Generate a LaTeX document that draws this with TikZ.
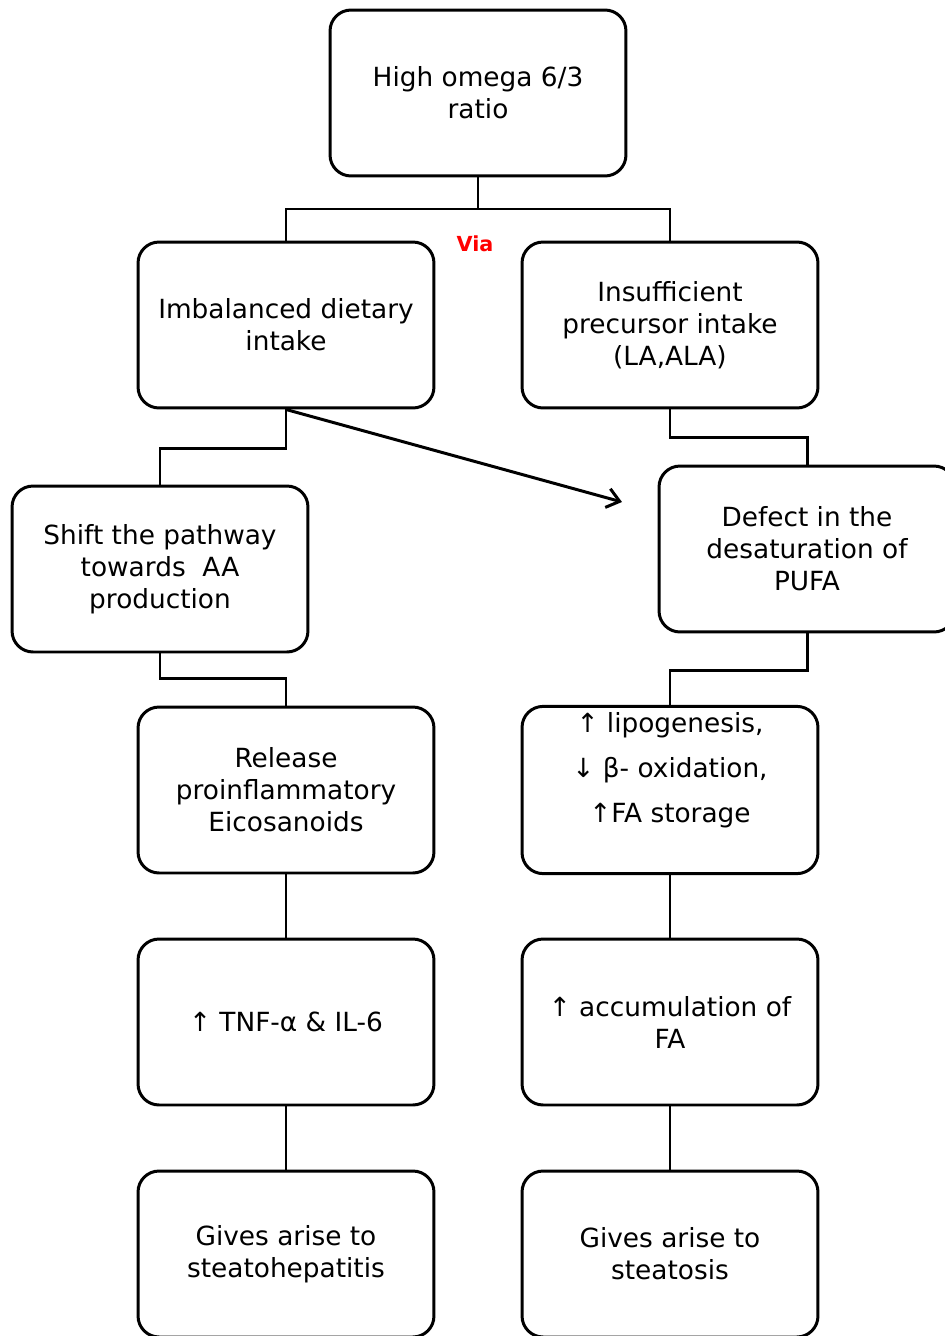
\documentclass[tikz,border=0pt]{standalone}
\usepackage{fontspec}
\setmainfont{DejaVu Sans}
\usetikzlibrary{arrows.meta}
\begin{document}
\begin{tikzpicture}[x=0.02cm,y=-0.02cm,
    link/.style={draw=black,line width=1.7pt}]
\useasboundingbox (0,0) rectangle (945,1336);
\begin{scope}[every node/.style={draw,line width=1.7pt,rounded corners=0.42cm,
              minimum width=5.92cm,minimum height=3.32cm,align=center,
              font=\fontsize{15}{18.2}\selectfont}]
    \node (ratio) at (478,93) {High omega 6/3\\ratio};
    \node (diet) at (286,325) {Imbalanced dietary\\intake};
    \node (prec) at (670,325) {Insufficient\\precursor intake\\(LA,ALA)};
    \node (shift) at (160,569) {Shift the pathway\\towards~ AA\\production};
    \node (desat) at (807,549) {Defect in the\\desaturation of\\PUFA};
    \node (eico) at (286,790) {Release\\proinflammatory\\Eicosanoids};
    \node (lipo) at (670,790) {↑ lipogenesis,\\[7.5pt]↓ β- oxidation,\\[7.5pt]↑FA storage\\[7.5pt]\mbox{}};
    \node (tnf) at (286,1022) {↑ TNF-α \& IL-6};
    \node (accu) at (670,1022) {↑ accumulation of\\FA};
    \node (nash) at (286,1254) {Gives arise to\\steatohepatitis};
    \node (nafl) at (670,1254) {Gives arise to\\steatosis};
\end{scope}

\node[text=red,font=\bfseries\fontsize{11.8}{13}\selectfont] (via) at (475,244) {Via};

\coordinate (j1) at (478,209);
\coordinate (j2) at (223,448);
\coordinate (j3) at (738,437);
\coordinate (j4) at (223,678);
\coordinate (j5) at (738,670);
\coordinate (tip) at (622,502);

\path [link] (ratio.south) -- (j1);
\path [link] (diet.north) |- (j1) -| (prec.north);
\path [link] (diet.south) |- (j2) -| (shift.north);
\path [link] (prec.south) |- (j3) -| (desat.north);
\path [link] (shift.south) |- (j4) -| (eico.north);
\path [link] (desat.south) |- (j5) -| (lipo.north);
\path [link] (eico) -- (tnf);
\path [link] (tnf) -- (nash);
\path [link] (lipo) -- (accu);
\path [link] (accu) -- (nafl);
\path [link,-{Straight Barb[length=7pt,width=11pt]}] (diet.south) -- (tip);
\end{tikzpicture}
\end{document}
